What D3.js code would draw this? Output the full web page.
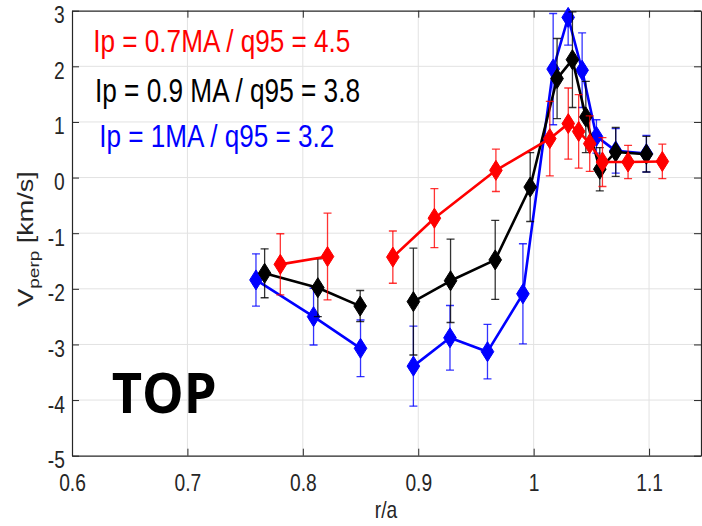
<!DOCTYPE html>
<html><head><meta charset="utf-8">
<script src="https://cdn.jsdelivr.net/npm/d3@7"></script>
<style>body{margin:0;background:#fff}</style>
</head><body>
<svg id="c" width="702" height="526"></svg>
<script>
// ---- data ----
const xTicks = [0.6, 0.7, 0.8, 0.9, 1.0, 1.1];
const xTickLabels = ["0.6", "0.7", "0.8", "0.9", "1", "1.1"];
const yTicks = [-5, -4, -3, -2, -1, 0, 1, 2, 3];
const yTickLabels = ["-5", "-4", "-3", "-2", "-1", "0", "1", "2", "3"];
const seriesNames = ["Ip = 0.7MA / q95 = 4.5", "Ip = 0.9 MA / q95 = 3.8", "Ip = 1MA / q95 = 3.2"];
const xLabel = "r/a";
const panelLabel = "TOP";
// null marks a gap in the connecting line
const redX   = [0.7805, 0.8214, null, 0.878, 0.914, 0.9673, 1.014, 1.030, 1.039, 1.0486, 1.0596, 1.0818, 1.1115];
const redY   = [-1.56, -1.42, null, -1.43, -0.73, 0.13, 0.70, 0.97, 0.83, 0.61, 0.28, 0.28, 0.29];
const redErr = [0.55, 0.78, null, 0.47, 0.53, 0.38, 0.67, 0.64, 0.66, 0.50, 0.44, 0.30, 0.31];
const blackX   = [0.7669, 0.813, 0.8497, null, 0.8958, 0.928, 0.9667, 0.997, 1.0203, 1.0336, 1.0452, 1.0573, 1.0711, 1.0977];
const blackY   = [-1.72, -1.98, -2.31, null, -2.23, -1.855, -1.48, -0.17, 1.78, 2.12, 1.09, 0.15, 0.46, 0.42];
const blackErr = [0.44, 0.52, 0.28, null, 0.96, 0.75, 0.71, 0.62, 0.72, 0.86, 0.64, 0.39, 0.44, 0.32];
const blueX   = [0.7594, 0.8093, 0.850, null, 0.8958, 0.9275, 0.960, 0.9907, 1.0169, 1.0299, 1.042, 1.0544, 1.0711, 1.0977];
const blueY   = [-1.84, -2.50, -3.07, null, -3.39, -2.88, -3.13, -2.09, 1.95, 2.88, 1.93, 0.74, 0.48, 0.43];
const blueErr = [0.47, 0.51, 0.51, null, 0.72, 0.58, 0.49, 0.90, 1.00, 0.50, 0.67, 0.30, 0.40, 0.33];

// ---- layout ----
const L = 72, R = 701, T = 10.7, B = 455.7;
const svg = d3.select("#c");
const x = d3.scaleLinear().domain([0.6, 1.145]).range([L, R]);
const y = d3.scaleLinear().domain([-5, 3]).range([B, T]);
const axisCol = "#262626";
const font = "'Liberation Sans', Arial, sans-serif";

svg.append("rect").attr("x", 0).attr("y", 0).attr("width", 702).attr("height", 526).attr("fill", "#fff");

// grid
const grid = svg.append("g");
grid.selectAll(".gx").data(xTicks.slice(1)).join("line")
  .attr("x1", d => x(d)).attr("x2", d => x(d)).attr("y1", T).attr("y2", B)
  .attr("stroke", "#e2e2e2").attr("stroke-width", 1);
grid.selectAll(".gy").data(yTicks.slice(1, -1)).join("line")
  .attr("x1", L).attr("x2", R).attr("y1", d => y(d)).attr("y2", d => y(d))
  .attr("stroke", "#e2e2e2").attr("stroke-width", 1);

// axes (ticks inward on all sides)
const xAxis = svg.append("g").attr("transform", `translate(0,${B})`)
  .call(d3.axisBottom(x).tickValues(xTicks).tickFormat((d, i) => xTickLabels[i]).tickSizeInner(-7).tickSizeOuter(0));
const yAxis = svg.append("g").attr("transform", `translate(${L},0)`)
  .call(d3.axisLeft(y).tickValues(yTicks).tickFormat((d, i) => yTickLabels[i]).tickSizeInner(-7).tickSizeOuter(0));
const xTop = svg.append("g").attr("transform", `translate(0,${T})`)
  .call(d3.axisTop(x).tickValues(xTicks).tickFormat("").tickSizeInner(-7).tickSizeOuter(0));
const yRight = svg.append("g").attr("transform", `translate(${R},0)`)
  .call(d3.axisRight(y).tickValues(yTicks).tickFormat("").tickSizeInner(-7).tickSizeOuter(0));
[xAxis, yAxis, xTop, yRight].forEach(g => {
  g.select(".domain").attr("stroke", axisCol).attr("stroke-width", 1.2);
  g.selectAll(".tick line").attr("stroke", axisCol).attr("stroke-width", 1);
});
xAxis.selectAll(".tick text")
  .attr("y", 35).attr("dy", 0).attr("fill", axisCol)
  .attr("font-family", font).attr("font-size", 24)
  .attr("transform", "scale(0.8,1)");
yAxis.selectAll(".tick text")
  .attr("x", -9).attr("dy", "0.5em").attr("fill", axisCol)
  .attr("font-family", font).attr("font-size", 24)
  .attr("transform", "scale(0.8,1)");
svg.selectAll(".domain").attr("fill", "none");

// axis labels
svg.append("text").attr("x", 386).attr("y", 518).attr("text-anchor", "middle")
  .attr("font-family", font).attr("font-size", 24).attr("fill", axisCol)
  .attr("transform", "translate(386,0) scale(0.8,1) translate(-386,0)")
  .text(xLabel);
const yl = svg.append("text")
  .attr("transform", "translate(33,239) scale(0.8,1) rotate(-90)")
  .attr("text-anchor", "middle").attr("font-family", font).attr("font-size", 27).attr("fill", axisCol);
yl.append("tspan").text("V");
yl.append("tspan").attr("dy", 7).attr("font-size", 19).text("perp");
yl.append("tspan").attr("dy", -7).text(" [km/s]");

// legend text
const legendColors = ["#ff0000", "#000000", "#0000ff"];
const legendPos = [[93.3, 51.7, 257, 32], [95, 101.7, 265, 34], [99.3, 146.7, 235, 32]];
seriesNames.forEach((n, i) => {
  svg.append("text").attr("x", legendPos[i][0]).attr("y", legendPos[i][1])
    .attr("font-family", font).attr("font-size", legendPos[i][3]).attr("fill", legendColors[i])
    .attr("textLength", legendPos[i][2]).attr("lengthAdjust", "spacingAndGlyphs")
    .text(n);
});

// clip
svg.append("clipPath").attr("id", "clip").append("rect")
  .attr("x", L).attr("y", T).attr("width", R - L).attr("height", B - T);

// series: blue, black, red (red on top)
const series = [
  {xs: blueX, ys: blueY, es: blueErr, col: "#0000ff"},
  {xs: blackX, ys: blackY, es: blackErr, col: "#000000"},
  {xs: redX, ys: redY, es: redErr, col: "#ff0000"}
];
const diamond = "M0,-10L6.3,0L0,10L-6.3,0Z";
const line = d3.line().defined(d => d.x != null).x(d => x(d.x)).y(d => y(d.y));
series.forEach(s => {
  const pts = s.xs.map((v, i) => ({x: v, y: s.ys[i], e: s.es[i]}));
  const valid = pts.filter(p => p.x != null);
  const g = svg.append("g");
  const eg = g.append("g").attr("clip-path", "url(#clip)")
    .attr("stroke", s.col).attr("stroke-width", 1.3).attr("stroke-opacity", 0.8);
  valid.forEach(p => {
    const cx = x(p.x), y1 = y(p.y + p.e), y2 = y(p.y - p.e);
    eg.append("line").attr("x1", cx).attr("x2", cx).attr("y1", y1).attr("y2", y2);
    eg.append("line").attr("x1", cx - 4).attr("x2", cx + 4).attr("y1", y1).attr("y2", y1);
    eg.append("line").attr("x1", cx - 4).attr("x2", cx + 4).attr("y1", y2).attr("y2", y2);
  });
  g.append("path").datum(pts).attr("d", line).attr("fill", "none")
    .attr("stroke", s.col).attr("stroke-width", 2.6).attr("stroke-linejoin", "round");
  g.selectAll(".m").data(valid).join("path")
    .attr("d", diamond).attr("transform", p => `translate(${x(p.x)},${y(p.y)})`)
    .attr("fill", s.col).attr("stroke", s.col).attr("stroke-width", 1);
});

// panel label
svg.append("text").attr("x", 111.7).attr("y", 413)
  .attr("font-family", "'Open Sans', Lato, sans-serif").attr("font-weight", 700)
  .attr("font-size", 56).attr("fill", "#000")
  .attr("textLength", 105).attr("lengthAdjust", "spacingAndGlyphs")
  .text(panelLabel);
</script>
</body></html>
